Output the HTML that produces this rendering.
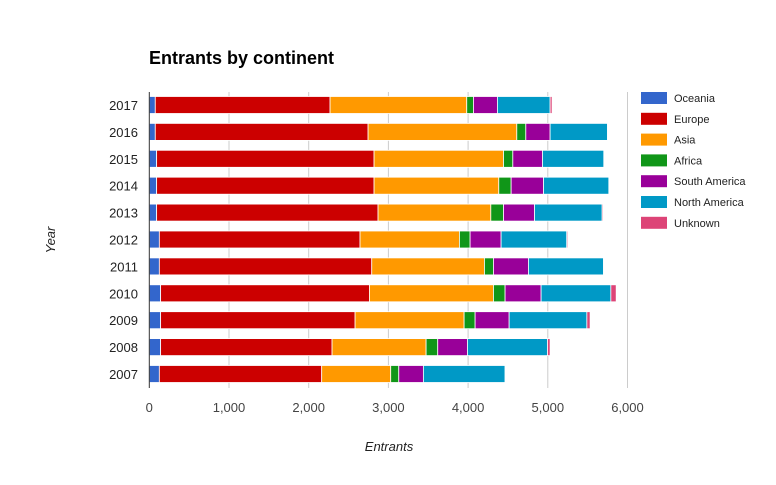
<!DOCTYPE html>
<html><head><meta charset="utf-8"><style>
body{margin:0;background:#fff;font-family:"Liberation Sans",Arial,sans-serif}
svg text{font-family:"Liberation Sans",Arial,sans-serif}
</style></head><body>
<svg id="c" width="776" height="480"></svg>
<script>
const years=["2017","2016","2015","2014","2013","2012","2011","2010","2009","2008","2007"];
const seriesNames=["Oceania","Europe","Asia","Africa","South America","North America","Unknown"];
const oceania=[75,75,92,92,92,126,126,142,142,142,126];
const europe=[2193,2670,2728,2728,2778,2518,2665,2620,2440,2151,2037];
const asia=[1715,1866,1624,1565,1415,1247,1414,1556,1368,1180,866];
const africa=[84,113,117,155,159,134,113,146,138,146,101];
const southAmerica=[301,305,372,406,389,389,439,452,427,373,309];
const northAmerica=[661,720,770,820,849,824,942,875,975,1004,1025];
const unknown=[25,8,8,8,13,13,8,67,41,33,9];
const xTicks=[0,1000,2000,3000,4000,5000,6000];
const xTickLabels=["0","1,000","2,000","3,000","4,000","5,000","6,000"];
const colors=["#3366cc","#cc0000","#ff9900","#109618","#990099","#0099c6","#dd4477"];
const NS="http://www.w3.org/2000/svg";
const svg=document.getElementById('c');
const X0=149.3,PX=0.0797,TOP=92,BOT=388,ROW=26.9,FIRST=105,BH=17;
const xs=v=>X0+v*PX;
const ys=i=>FIRST+i*ROW;
function mk(t,a){const e=document.createElementNS(NS,t);for(const k in a)e.setAttribute(k,a[k]);svg.appendChild(e);return e;}
let e=mk('text',{x:149,y:64,'font-size':18,'font-weight':'bold',fill:'#000'});e.textContent="Entrants by continent";


xTicks.forEach((t,i)=>{
 if(i>0){const g=mk('line',{x1:xs(t),x2:xs(t),y1:TOP,y2:BOT,stroke:'#cccccc','stroke-width':1});
 
 }
 const l=mk('text',{x:xs(t),y:412,'font-size':13,'text-anchor':'middle',fill:'#444'});l.textContent=xTickLabels[i];
 
 
});
const all=[oceania,europe,asia,africa,southAmerica,northAmerica,unknown];
years.forEach((y,i)=>{
 let cum=0;
 all.forEach((s,k)=>{
  const v=s[i];
  const r=mk('rect',{x:xs(cum),y:ys(i)-BH/2,width:Math.max(v*PX,0.5),height:BH,fill:colors[k],stroke:'#fff','stroke-width':0.8});
  
  
  cum+=v;
 });
 const l=mk('text',{x:138,y:ys(i)+5,'font-size':13,'text-anchor':'end',fill:'#222'});l.textContent=y;
 
 
});
e=mk('line',{x1:X0,x2:X0,y1:TOP,y2:BOT,stroke:'#333','stroke-width':1});


e=mk('text',{x:389,y:451,'font-size':13,'font-style':'italic','text-anchor':'middle',fill:'#222'});e.textContent="Entrants";


e=mk('text',{x:0,y:0,'font-size':13,'font-style':'italic','text-anchor':'middle',fill:'#222',transform:'translate(55,240) rotate(-90)'});e.textContent="Year";


seriesNames.forEach((n,k)=>{
 const yy=98+k*20.8;
 const r=mk('rect',{x:641,y:yy-6,width:26,height:12,fill:colors[k]});
 
 
 const t=mk('text',{x:674,y:yy+4,'font-size':11,fill:'#222'});t.textContent=n;
 
 
});
</script>
</body></html>
